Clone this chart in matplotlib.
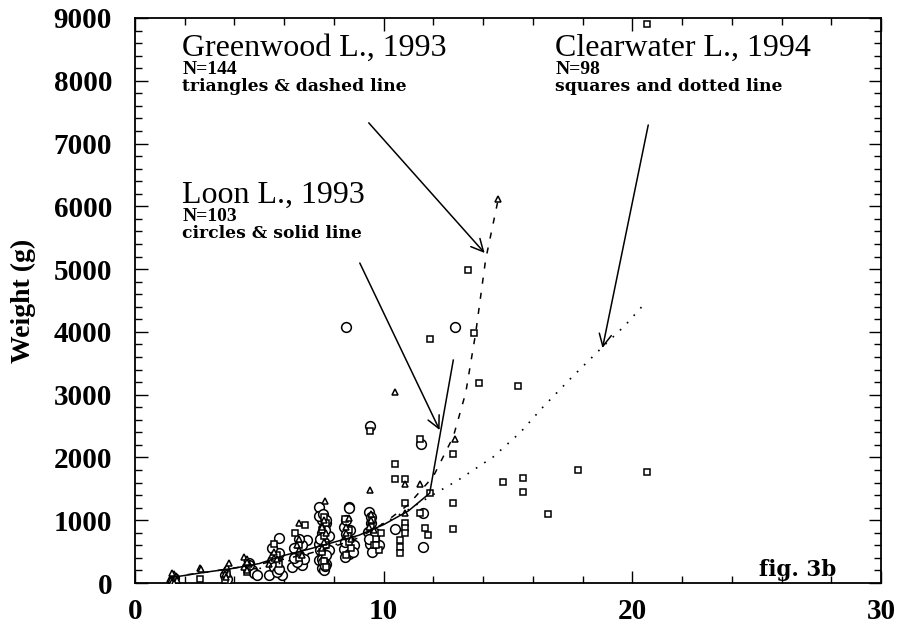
import matplotlib
matplotlib.use("Agg")
import matplotlib.pyplot as plt
import numpy as np

# ---------------- data ----------------
loon_x = [1.55, 3.6, 3.7, 4.5, 4.6, 4.7, 4.8, 4.6, 4.9,
          5.4, 5.9, 5.8, 5.6, 5.7, 5.5, 5.8, 5.6, 5.7, 5.5, 5.8,
          6.3, 6.7, 6.9, 6.6, 6.4, 6.8, 6.5, 6.7, 6.6, 6.4,
          7.4, 7.5, 7.6, 7.5, 7.6, 7.4, 7.7, 7.5, 7.6, 7.4, 7.7, 7.5, 7.6, 7.8, 7.7, 7.4, 7.6, 7.8, 7.5,
          7.55, 7.65, 7.45, 7.7, 7.55, 7.65, 7.45, 7.7,
          8.47, 8.6, 8.6, 8.4, 8.5, 8.7, 8.4, 8.6, 8.45, 8.8, 8.55, 8.5, 8.65, 8.45, 8.75,
          9.45, 9.4, 9.5, 9.35, 9.6, 9.45, 9.7, 9.55, 9.8, 9.5, 9.65, 9.4,
          10.45, 11.5, 11.6, 11.6, 12.85]
loon_y = [80, 120, 60, 250, 320, 200, 160, 280, 130,
          130, 130, 720, 300, 420, 350, 480, 250, 180, 550, 220,
          255, 290, 685, 450, 550, 380, 330, 600, 700, 400,
          1210, 1000, 900, 800, 700, 620, 560, 480, 420, 360, 300, 240, 200, 750, 950, 1060, 650, 520, 380,
          1100, 850, 700, 450, 330, 270, 520, 1000,
          4080, 1210, 1190, 900, 780, 640, 540, 460, 414, 600, 700, 1000, 850, 650, 500,
          2500, 1130, 950, 820, 700, 620, 560, 500, 600, 1050, 800, 700,
          860, 2210, 1115, 570, 4080]

green_x = [1.4, 1.5, 1.55, 1.6, 1.45, 1.5, 1.65, 1.5, 1.7, 1.55,
           2.6, 2.65,
           3.6, 3.7, 3.8, 3.6, 3.65,
           4.4, 4.5, 4.6, 4.4, 4.5, 4.5,
           5.5, 5.6, 5.4, 5.7, 5.6,
           6.6, 6.5, 6.6, 6.7, 6.6,
           7.63, 7.5, 7.7, 7.6, 7.5, 7.6,
           8.6, 8.5, 8.7, 8.5,
           9.45, 9.5, 9.6, 9.4, 9.5,
           10.45, 10.85, 10.85, 11.45, 12.85, 14.6]
green_y = [60, 100, 140, 80, 40, 20, 110, 160, 50, 0,
           240, 220,
           200, 250, 318, 150, 100,
           414, 380, 300, 260, 200, 330,
           450, 400, 300, 380, 500,
           955, 600, 520, 450, 700,
           1300, 900, 800, 650, 550, 1000,
           1035, 900, 700, 800,
           1480, 1000, 850, 900, 1100,
           3043, 1577, 1115, 1577, 2294, 6120]

clear_x = [2.6, 3.6, 3.7, 4.5,
           5.6, 5.8, 6.43, 6.83, 6.6, 6.6, 5.7,
           7.6, 7.5, 7.7, 7.6, 7.7, 7.5, 7.6, 7.7,
           8.43, 8.6, 8.7, 8.5, 8.55, 8.6,
           9.45, 9.5, 9.7, 9.8, 9.6, 9.9, 9.55, 9.7,
           10.45, 10.45, 10.85, 10.85, 10.85, 10.85, 10.85, 10.65, 10.65, 10.65,
           11.45, 11.45, 11.65, 11.8, 11.85, 11.85,
           12.8, 12.8, 12.8,
           13.4, 13.65, 13.85,
           14.8, 15.4, 15.6, 15.6, 16.6, 17.8, 20.6, 20.6]
clear_y = [64, 48, 150, 180,
           620, 300, 796, 924, 400, 600, 450,
           1050, 850, 600, 350, 250, 500, 750, 950,
           1020, 850, 550, 450, 750, 650,
           2420, 900, 700, 520, 600, 800, 1000, 600,
           1896, 1657, 1657, 1274, 955, 876, 796, 685, 573, 478,
           2294, 1115, 876, 764, 1434, 3887,
           2055, 1274, 860,
           4986, 3982, 3186,
           1609, 3138, 1673, 1450, 1099, 1800, 1768, 8900]

# regression curves
solid_x = [1.5, 2.8, 3.9, 5.0, 6.0, 7.0, 8.0, 9.0, 10.0, 11.0, 11.85, 12.8]
solid_y = [90, 170, 230, 310, 440, 540, 650, 760, 930, 1150, 1430, 3550]

dashed_x = [1.5, 3.0, 4.0, 5.0, 6.0, 7.0, 8.0, 9.0, 10.0, 11.0, 12.0, 12.8, 13.3, 13.7, 14.1, 14.6]
dashed_y = [100, 180, 240, 300, 380, 470, 580, 720, 950, 1250, 1700, 2330, 3030, 3980, 5150, 6100]

dotted_x = [5.0, 6.0, 7.0, 8.0, 9.0, 10.0, 11.0, 12.1, 13.0, 14.4, 15.5, 16.4, 17.5, 18.8, 19.7, 20.55]
dotted_y = [230, 330, 460, 600, 760, 950, 1170, 1434, 1640, 2007, 2400, 2800, 3250, 3760, 4100, 4475]

x_ticks = [0, 10, 20, 30]
y_ticks = [0, 1000, 2000, 3000, 4000, 5000, 6000, 7000, 8000, 9000]

lake_titles = ["Greenwood L., 1993", "Loon L., 1993", "Clearwater L., 1994"]
lake_counts = ["N=144", "N=103", "N=98"]
lake_desc = ["triangles & dashed line", "circles & solid line", "squares and dotted line"]

# ---------------- figure ----------------
SERIF = "Liberation Serif"
fig = plt.figure(figsize=(9.0, 6.29), dpi=100)
ax = fig.add_axes([135 / 900, 1 - 583 / 629, (881 - 135) / 900, (583 - 18) / 629])

ax.plot(loon_x, loon_y, linestyle="none", marker="o", markersize=7.0,
        markerfacecolor="white", markeredgecolor="black", markeredgewidth=1.1, zorder=3)
ax.plot(clear_x, clear_y, linestyle="none", marker="s", markersize=4.2,
        markerfacecolor="white", markeredgecolor="black", markeredgewidth=1.1, zorder=3)
ax.plot(green_x, green_y, linestyle="none", marker="^", markersize=4.8,
        markerfacecolor="white", markeredgecolor="black", markeredgewidth=1.1, zorder=3)

ax.plot(solid_x, solid_y, color="black", linewidth=1.1, zorder=4)
ax.plot(dashed_x, dashed_y, color="black", linewidth=1.1, linestyle=(0, (4, 6)), zorder=4)
ax.plot(dotted_x, dotted_y, color="black", linewidth=1.2, linestyle=(0, (1, 5)), zorder=4)

ax.set_xlim(0, 30)
ax.set_ylim(0, 9000)
ax.set_xticks(x_ticks)
ax.set_xticks(np.arange(0, 31, 2), minor=True)
ax.set_yticks(y_ticks)
ax.set_yticks(np.arange(0, 9001, 200), minor=True)
ax.set_xticklabels([str(v) for v in x_ticks])
ax.set_yticklabels([str(v) for v in y_ticks])
ax.tick_params(which="both", direction="in", top=True, right=True, width=1.0)
ax.tick_params(which="major", length=9)
ax.tick_params(which="minor", length=5)
ax.tick_params(axis="y", which="major", pad=16.5)
ax.tick_params(axis="x", which="major", pad=11)
for lab in ax.get_xticklabels() + ax.get_yticklabels():
    lab.set_fontfamily(SERIF)
    lab.set_fontweight("bold")
    lab.set_fontsize(21)
for sp in ax.spines.values():
    sp.set_linewidth(1.3)

ax.set_ylabel("Weight (g)", fontfamily=SERIF, fontweight="bold", fontsize=20, labelpad=13)

# annotations
title_pos = [(1.9, 8400), (1.9, 6060), (16.9, 8400)]
for (tx, ty), t, n, d in zip(title_pos, lake_titles, lake_counts, lake_desc):
    ax.text(tx, ty, t, fontfamily=SERIF, fontsize=23, va="baseline", ha="left")
    ax.text(tx, ty - 300, n, fontfamily=SERIF, fontweight="bold", fontsize=14, va="baseline", ha="left")
    ax.text(tx, ty - 570, d, fontfamily="DejaVu Serif", fontweight="bold", fontsize=12.3, va="baseline", ha="left")

arrow_kw = dict(arrowstyle="->", color="black", lw=1.1, mutation_scale=22, shrinkA=0, shrinkB=0)
ax.annotate("", xy=(14.06, 5257), xytext=(9.4, 7330), arrowprops=arrow_kw)
ax.annotate("", xy=(12.25, 2437), xytext=(9.04, 5097), arrowprops=arrow_kw)
ax.annotate("", xy=(18.8, 3743), xytext=(20.64, 7296), arrowprops=arrow_kw)

ax.text(25.1, 110, "fig. 3b", fontfamily="DejaVu Serif", fontweight="bold", fontsize=15.5,
        va="baseline", ha="left")

fig.savefig("out.png", dpi=100)
